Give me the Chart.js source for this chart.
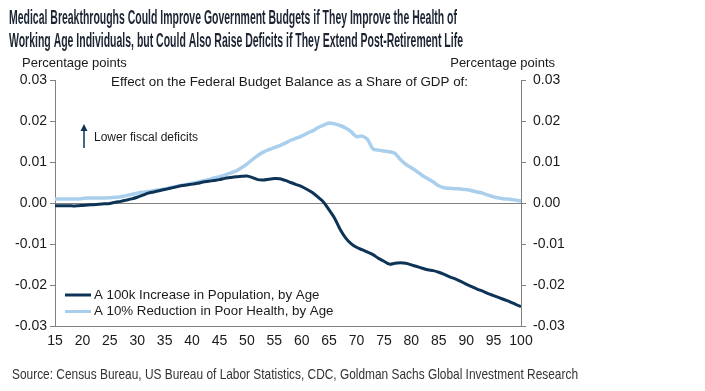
<!DOCTYPE html>
<html>
<head>
<meta charset="utf-8">
<script src="https://cdn.jsdelivr.net/npm/chart.js@4.4.1/dist/chart.umd.min.js"></script>
<style>
  html, body { margin: 0; padding: 0; background: #fff; }
  #wrap { position: relative; width: 705px; height: 391px; }
</style>
</head>
<body>
<div id="wrap"><canvas id="myChart" width="705" height="391"></canvas></div>
<script>
// ages 15..100
const ages = [];
for (let a = 15; a <= 100; a++) ages.push(a);

const populationIncrease = [
  -0.0007, -0.0007, -0.0007, -0.0007, -0.0007, -0.0006, -0.0005, -0.0004, -0.0003, -0.0002,
  -0.0001, 0.0002, 0.0004, 0.0007, 0.0010, 0.0014, 0.0019, 0.0024, 0.0027, 0.0030,
  0.0033, 0.0036, 0.0039, 0.0042, 0.0044, 0.0046, 0.0048, 0.0051, 0.0053, 0.0055,
  0.0057, 0.0060, 0.0062, 0.0064, 0.0065, 0.0066, 0.0062, 0.0057, 0.0056, 0.0058,
  0.0060, 0.0059, 0.0055, 0.0050, 0.0045, 0.0040, 0.0033, 0.0025, 0.0014, 0.0002,
  -0.0017, -0.0037, -0.0064, -0.0085, -0.0099, -0.0108, -0.0114, -0.0120, -0.0126, -0.0135,
  -0.0142, -0.0149, -0.0147, -0.0146, -0.0147, -0.0151, -0.0155, -0.0159, -0.0163, -0.0165,
  -0.0169, -0.0174, -0.0180, -0.0185, -0.0191, -0.0198, -0.0204, -0.0210, -0.0215, -0.0221,
  -0.0226, -0.0231, -0.0236, -0.0241, -0.0247, -0.0253
];

const poorHealthReduction = [
  0.0010, 0.0010, 0.0010, 0.0010, 0.0010, 0.0011, 0.0012, 0.0012, 0.0012, 0.0012,
  0.0013, 0.0014, 0.0015, 0.0018, 0.0021, 0.0024, 0.0026, 0.0028, 0.0030, 0.0032,
  0.0034, 0.0037, 0.0040, 0.0043, 0.0045, 0.0048, 0.0051, 0.0054, 0.0057, 0.0061,
  0.0064, 0.0068, 0.0073, 0.0078, 0.0086, 0.0095, 0.0106, 0.0116, 0.0124, 0.0130,
  0.0135, 0.0140, 0.0146, 0.0153, 0.0158, 0.0163, 0.0170, 0.0176, 0.0184, 0.0190,
  0.0195, 0.0193, 0.0189, 0.0183, 0.0174, 0.0162, 0.0163, 0.0155, 0.0132, 0.0129,
  0.0127, 0.0125, 0.0121, 0.0106, 0.0094, 0.0086, 0.0077, 0.0067, 0.0059, 0.0051,
  0.0042, 0.0037, 0.0036, 0.0035, 0.0034, 0.0033, 0.0030, 0.0027, 0.0024, 0.0019,
  0.0015, 0.0012, 0.0010, 0.0009, 0.0007, 0.0005
];

const seriesNames = [
  'A 100k Increase in Population, by Age',
  'A 10% Reduction in Poor Health, by Age'
];
const seriesColors = ['#0d3457', '#a9cfec'];

const titleLines = [
  'Medical Breakthroughs Could Improve Government Budgets if They Improve the Health of',
  'Working Age Individuals, but Could Also Raise Deficits if They Extend Post-Retirement Life'
];
const subTitle = 'Effect on the Federal Budget Balance as a Share of GDP of:';
const axisUnit = 'Percentage points';
const noteText = 'Lower fiscal deficits';
const sourceText = 'Source: Census Bureau, US Bureau of Labor Statistics, CDC, Goldman Sachs Global Investment Research';

const AXIS_COLOR = '#808080';
const TEXT_COLOR = '#1a1a1a';
const SANS = '"Liberation Sans", Arial, sans-serif';

function toPoints(vals) {
  return vals.map((v, i) => ({ x: ages[i], y: v }));
}

// squeeze text horizontally so it fills a given width (no narrow font installed)
function fitText(ctx, text, x, y, width) {
  const w = ctx.measureText(text).width;
  ctx.save();
  ctx.translate(x, y);
  ctx.scale(width / w, 1);
  ctx.fillText(text, 0, 0);
  ctx.restore();
}

// texts, zero line, legend
const extras = {
  id: 'extras',
  beforeDatasetsDraw(chart) {
    const { ctx, chartArea } = chart;
    const y0 = chart.scales.y.getPixelForValue(0);
    ctx.save();
    ctx.strokeStyle = AXIS_COLOR;
    ctx.lineWidth = 1;
    ctx.beginPath();
    ctx.moveTo(chartArea.left, Math.round(y0) + 0.5);
    ctx.lineTo(chartArea.right, Math.round(y0) + 0.5);
    ctx.stroke();
    ctx.restore();
  },
  afterDraw(chart) {
    const { ctx } = chart;
    ctx.save();
    ctx.textBaseline = 'middle';
    ctx.textAlign = 'left';

    // title
    ctx.fillStyle = '#1c2533';
    ctx.font = 'bold 20px ' + SANS;
    fitText(ctx, titleLines[0], 9, 18, 448);
    fitText(ctx, titleLines[1], 9, 41, 454);

    // axis units
    ctx.fillStyle = TEXT_COLOR;
    ctx.font = '13px ' + SANS;
    ctx.fillText(axisUnit, 22, 63);
    ctx.textAlign = 'right';
    ctx.fillText(axisUnit, 555, 63);

    // subtitle
    ctx.textAlign = 'left';
    ctx.font = '13.4px ' + SANS;
    ctx.fillText(subTitle, 111, 82);

    // annotation arrow
    ctx.strokeStyle = '#0d3457';
    ctx.fillStyle = '#0d3457';
    ctx.lineWidth = 1.5;
    ctx.beginPath();
    ctx.moveTo(84, 148);
    ctx.lineTo(84, 128);
    ctx.stroke();
    ctx.beginPath();
    ctx.moveTo(84, 124);
    ctx.lineTo(80.5, 131);
    ctx.lineTo(87.5, 131);
    ctx.closePath();
    ctx.fill();
    ctx.fillStyle = TEXT_COLOR;
    ctx.font = '12px ' + SANS;
    ctx.fillText(noteText, 94, 138);

    // legend
    ctx.font = '13.3px ' + SANS;
    chart.data.datasets.forEach((ds, i) => {
      const y = 295 + i * 16.5;
      ctx.strokeStyle = ds.borderColor;
      ctx.lineWidth = 3;
      ctx.beginPath();
      ctx.moveTo(65, y);
      ctx.lineTo(91, y);
      ctx.stroke();
      ctx.fillStyle = TEXT_COLOR;
      ctx.fillText(ds.label, 94, y);
    });

    // source
    ctx.fillStyle = '#333333';
    ctx.font = '15px ' + SANS;
    fitText(ctx, sourceText, 12, 375, 566);
    ctx.restore();
  }
};

const yTicks = {
  color: TEXT_COLOR,
  font: { family: SANS, size: 14 },
  stepSize: 0.01,
  padding: 3,
  callback: v => v.toFixed(2)
};

const ctx = document.querySelector('#myChart').getContext('2d');
const myChart = new Chart(ctx, {
  type: 'line',
  data: {
    datasets: [
      {
        label: seriesNames[0],
        data: toPoints(populationIncrease),
        borderColor: seriesColors[0],
        borderWidth: 3,
        pointRadius: 0,
        tension: 0.3,
        yAxisID: 'y'
      },
      {
        label: seriesNames[1],
        data: toPoints(poorHealthReduction),
        borderColor: seriesColors[1],
        borderWidth: 3.5,
        pointRadius: 0,
        tension: 0.3,
        yAxisID: 'y'
      }
    ]
  },
  options: {
    responsive: false,
    animation: false,
    layout: { padding: { top: 80, bottom: 34, left: 0, right: 0 } },
    plugins: {
      legend: { display: false },
      tooltip: { enabled: false }
    },
    scales: {
      x: {
        type: 'linear',
        min: 15,
        max: 100,
        grid: { display: false, drawTicks: true, tickLength: 5, tickColor: AXIS_COLOR },
        border: { color: AXIS_COLOR },
        ticks: {
          stepSize: 5,
          color: TEXT_COLOR,
          font: { family: SANS, size: 14 },
          maxRotation: 0,
          padding: 2
        },
        afterFit: s => { s.height = 31; }
      },
      y: {
        position: 'left',
        min: -0.03,
        max: 0.03,
        grid: { drawOnChartArea: false, tickLength: 5, tickColor: AXIS_COLOR },
        border: { color: AXIS_COLOR },
        ticks: yTicks,
        afterFit: s => { s.width = 55; }
      },
      y2: {
        position: 'right',
        min: -0.03,
        max: 0.03,
        grid: { drawOnChartArea: false, tickLength: 5, tickColor: AXIS_COLOR },
        border: { color: AXIS_COLOR },
        ticks: Object.assign({}, yTicks, { padding: 7 }),
        afterFit: s => { s.width = 184; }
      }
    }
  },
  plugins: [extras]
});
</script>
</body>
</html>
